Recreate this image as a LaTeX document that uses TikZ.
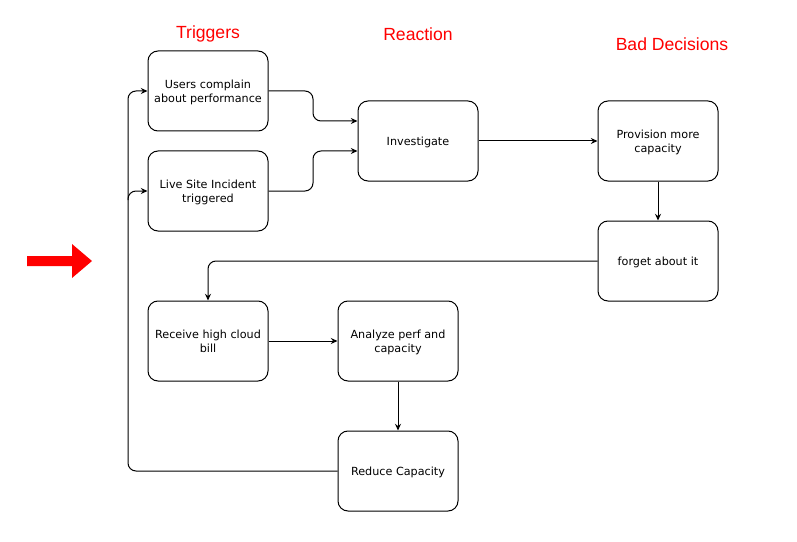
\documentclass[tikz,border=0pt]{standalone}
\usepackage{fontspec}
\setmainfont{DejaVu Sans}
\newfontfamily\titlefont{Liberation Sans}
\usetikzlibrary{arrows.meta}
\newcommand{\bxtext}[1]{\raisebox{-1.6pt}[\height][\depth]{\begin{tabular}{@{}c@{}}#1\end{tabular}}}
\begin{document}
\begin{tikzpicture}[x=0.75pt,y=-0.75pt,
  box/.style={draw,line width=0.75pt,rounded corners=7.5pt,minimum width=90pt,minimum height=60pt,font=\fontsize{8.4pt}{10.4pt}\selectfont,inner sep=0pt},
  ttl/.style={text=red,font=\titlefont\fontsize{13.2pt}{15pt}\selectfont},
  conn/.style={line width=0.75pt,rounded corners=6pt,-{Stealth[length=5pt,width=4.5pt]}}]
\useasboundingbox (0,0) rectangle (797,542);
\node[ttl] (t1) at (208,34) {Triggers};
\node[ttl] (t2) at (418,34) {Reaction};
\node[ttl] (t3) at (672,44) {Bad Decisions};
\node[box] (users) at (208,91) {\bxtext{Users complain\\about performance}};
\node[box] (live) at (208,191) {\bxtext{Live Site Incident\\triggered}};
\node[box] (inv) at (418,141) {\bxtext{Investigate}};
\node[box] (prov) at (658,141) {\bxtext{Provision more\\capacity}};
\node[box] (forget) at (658,261) {\bxtext{forget about it}};
\node[box] (recv) at (208,341) {\bxtext{Receive high cloud\\bill}};
\node[box] (ana) at (398,341) {\bxtext{Analyze perf and\\capacity}};
\node[box] (red) at (398,471) {\bxtext{Reduce Capacity}};
\fill[red] (27,256) -- (72,256) -- (72,244) -- (92,261) -- (72,278) -- (72,266) -- (27,266) -- cycle;
\draw[conn] (users.east) -- (313,91) -- (313,121) -- (inv.west |- 0,121);
\draw[conn] (live.east) -- (313,191) -- (313,151) -- (inv.west |- 0,151);
\draw[conn] (inv.east) -- (prov.west);
\draw[conn] (prov.south) -- (forget.north);
\draw[conn] (forget.west) -- (208,261) -- (recv.north);
\draw[conn] (recv.east) -- (ana.west);
\draw[conn] (ana.south) -- (red.north);
\coordinate (j) at (128,191);
\draw[conn] (red.west) -- (128,471) -- (128,91) -- (users.west);
\draw[conn] (128,200) -- (j) -- (live.west);
\end{tikzpicture}
\end{document}
